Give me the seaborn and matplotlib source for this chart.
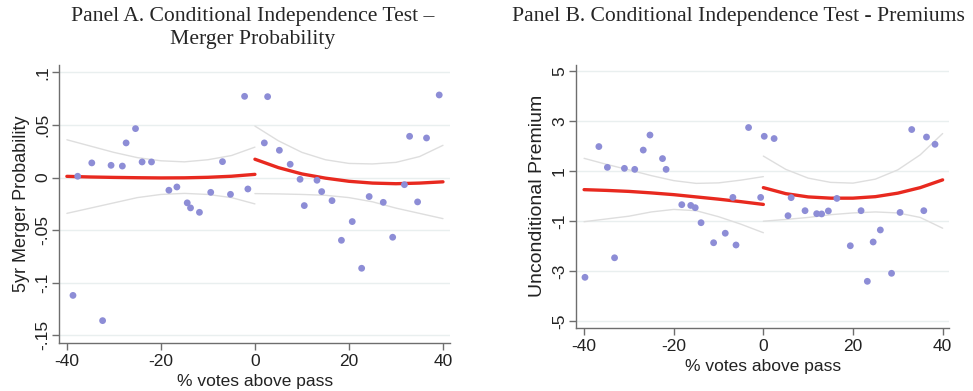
import numpy as np
import pandas as pd
import matplotlib
matplotlib.use("Agg")
import matplotlib.pyplot as plt
import seaborn as sns

# ---------------- Panel A data ----------------
a_x = [-38.7, -37.7, -34.7, -32.4, -30.6, -28.2, -27.4, -25.4, -24.0, -22.0,
       -18.3, -16.6, -14.4, -13.7, -11.8, -9.4, -6.9, -5.2, -2.2, -1.5,
       2.0, 2.7, 5.2, 7.5, 9.6, 10.5, 13.2, 14.2, 16.4, 18.4,
       20.7, 22.7, 24.3, 27.3, 29.3, 31.8, 32.9, 34.6, 36.5, 39.2]
a_y = [-0.112, 0.0013, 0.014, -0.136, 0.0117, 0.011, 0.033, 0.0466, 0.0149, 0.0149,
       -0.012, -0.0089, -0.024, -0.0288, -0.033, -0.014, 0.0152, -0.0159, 0.0773, -0.0108,
       0.033, 0.077, 0.026, 0.0127, -0.0016, -0.0266, -0.0025, -0.0133, -0.0219, -0.0596,
       -0.0418, -0.0862, -0.018, -0.0235, -0.0567, -0.0067, 0.0393, -0.0231, 0.0377, 0.0786]

a_left_x = [-40, -35, -30, -25, -20, -15, -10, -5, 0]
a_left_fit = [0.0012, 0.0006, 0.0002, -0.0001, -0.0003, -0.0002, 0.0003, 0.0013, 0.0031]
a_left_hi = [0.036, 0.030, 0.024, 0.019, 0.016, 0.015, 0.017, 0.021, 0.029]
a_left_lo = [-0.034, -0.029, -0.024, -0.019, -0.016, -0.015, -0.016, -0.019, -0.025]

a_right_x = [0, 5, 10, 15, 20, 25, 30, 35, 40]
a_right_fit = [0.0175, 0.0095, 0.0035, -0.0005, -0.0035, -0.0052, -0.0058, -0.0052, -0.0040]
a_right_hi = [0.049, 0.035, 0.024, 0.017, 0.0135, 0.013, 0.0145, 0.020, 0.0307]
a_right_lo = [-0.0152, -0.0155, -0.016, -0.0168, -0.019, -0.023, -0.029, -0.034, -0.039]

a_yticks = [0.1, 0.05, 0.0, -0.05, -0.1, -0.15]
a_yticklabels = [".1", ".05", "0", "-.05", "-.1", "-.15"]

# ---------------- Panel B data ----------------
b_x = [-39.8, -36.7, -34.8, -33.2, -31.0, -28.7, -26.8, -25.3, -22.5, -21.7,
       -18.2, -16.2, -15.2, -13.9, -11.1, -8.5, -6.8, -6.1, -3.3, -0.6,
       0.2, 2.4, 5.5, 6.2, 9.3, 11.9, 13.0, 14.5, 16.4, 19.4,
       21.8, 23.2, 24.5, 26.1, 28.6, 30.5, 33.1, 35.8, 36.4, 38.3]
b_y = [-3.24, 1.98, 1.15, -2.46, 1.11, 1.07, 1.84, 2.44, 1.50, 1.07,
       -0.34, -0.37, -0.46, -1.06, -1.86, -1.48, -0.05, -1.95, 2.74, -0.05,
       2.39, 2.30, -0.78, -0.06, -0.58, -0.70, -0.71, -0.59, -0.09, -1.98,
       -0.58, -3.40, -1.83, -1.35, -3.08, -0.65, 2.66, -0.58, 2.36, 2.07]

b_left_x = [-40, -35, -30, -25, -20, -15, -10, -5, 0]
b_left_fit = [0.26, 0.23, 0.19, 0.13, 0.06, -0.03, -0.12, -0.22, -0.33]
b_left_hi = [1.51, 1.27, 1.05, 0.82, 0.62, 0.51, 0.53, 0.64, 0.78]
b_left_lo = [-1.02, -0.91, -0.80, -0.63, -0.53, -0.58, -0.82, -1.12, -1.46]

b_right_x = [0, 5, 10, 15, 20, 25, 30, 35, 40]
b_right_fit = [0.34, 0.10, -0.03, -0.08, -0.08, -0.02, 0.12, 0.34, 0.65]
b_right_hi = [1.60, 1.07, 0.72, 0.55, 0.52, 0.68, 1.05, 1.65, 2.50]
b_right_lo = [-1.00, -0.93, -0.85, -0.74, -0.67, -0.63, -0.67, -0.85, -1.28]

b_yticks = [5, 3, 1, -1, -3, -5]
b_yticklabels = ["5", "3", "1", "-1", "-3", "-5"]

x_ticks = [-40, -20, 0, 20, 40]

# ---------------- styling ----------------
sns.set_theme(style="white")
plt.rcParams['font.family'] = ['Liberation Sans', 'DejaVu Sans']

DOT = "#8d8dd6"
RED = "#e8291f"
CI = "#dedede"
GRID = "#e9efef"
SPINE = "#6e6e6e"

fig = plt.figure(figsize=(9.73, 3.91), dpi=100)
axA = fig.add_axes([0.061, 0.1235, 0.402, 0.710])
axB = fig.add_axes([0.592, 0.162, 0.3837, 0.672])


def draw(ax, px, py, segs, xlim, ylim, yticks, yticklabels, ylabel, ylabsize):
    for sx, fit, hi, lo in segs:
        d = pd.DataFrame({"x": sx, "fit": fit, "hi": hi, "lo": lo})
        sns.lineplot(data=d, x="x", y="hi", ax=ax, color=CI, lw=1.0, estimator=None)
        sns.lineplot(data=d, x="x", y="lo", ax=ax, color=CI, lw=1.0, estimator=None)
        sns.lineplot(data=d, x="x", y="fit", ax=ax, color=RED, lw=2.4, estimator=None, zorder=4)
    sns.scatterplot(x=px, y=py, ax=ax, color=DOT, s=24, edgecolor="none", zorder=5)
    ax.set_xlim(*xlim)
    ax.set_ylim(*ylim)
    ax.set_xticks(x_ticks)
    ax.set_xticklabels([str(t) for t in x_ticks], fontsize=12.5)
    ax.set_yticks(yticks)
    ax.set_yticklabels(yticklabels, fontsize=12.5, rotation=90, va="center")
    for t in yticks:
        ax.axhline(t, color=GRID, lw=1.0, zorder=0)
    ax.set_xlabel("% votes above pass", fontsize=12.5, color="#222222")
    ax.set_ylabel(ylabel, fontsize=ylabsize, color="#222222")
    for s in ["top", "right"]:
        ax.spines[s].set_visible(False)
    for s in ["left", "bottom"]:
        ax.spines[s].set_color(SPINE)
        ax.spines[s].set_linewidth(1.0)
    ax.tick_params(axis="both", direction="out", length=5, width=1, color=SPINE,
                   labelcolor="#222222", pad=3, left=True, bottom=True)
    ax.tick_params(axis="y", pad=1.5)


draw(axA, a_x, a_y,
     [(a_left_x, a_left_fit, a_left_hi, a_left_lo),
      (a_right_x, a_right_fit, a_right_hi, a_right_lo)],
     (-41.6, 41.6), (-0.157, 0.107), a_yticks, a_yticklabels,
     "5yr Merger Probability", 13)
draw(axB, b_x, b_y,
     [(b_left_x, b_left_fit, b_left_hi, b_left_lo),
      (b_right_x, b_right_fit, b_right_hi, b_right_lo)],
     (-41.8, 41.5), (-5.25, 5.24), b_yticks, b_yticklabels,
     "Unconditional Premium", 14)

fig.text(0.2597, 0.982, "Panel A. Conditional Independence Test \u2013\nMerger Probability",
         ha="center", va="top", fontsize=15.6, family=["Liberation Serif", "DejaVu Serif"],
         linespacing=1.3)
fig.text(0.7585, 0.982, "Panel B. Conditional Independence Test - Premiums",
         ha="center", va="top", fontsize=15.6, family=["Liberation Serif", "DejaVu Serif"])

fig.savefig("out.png", dpi=100)
